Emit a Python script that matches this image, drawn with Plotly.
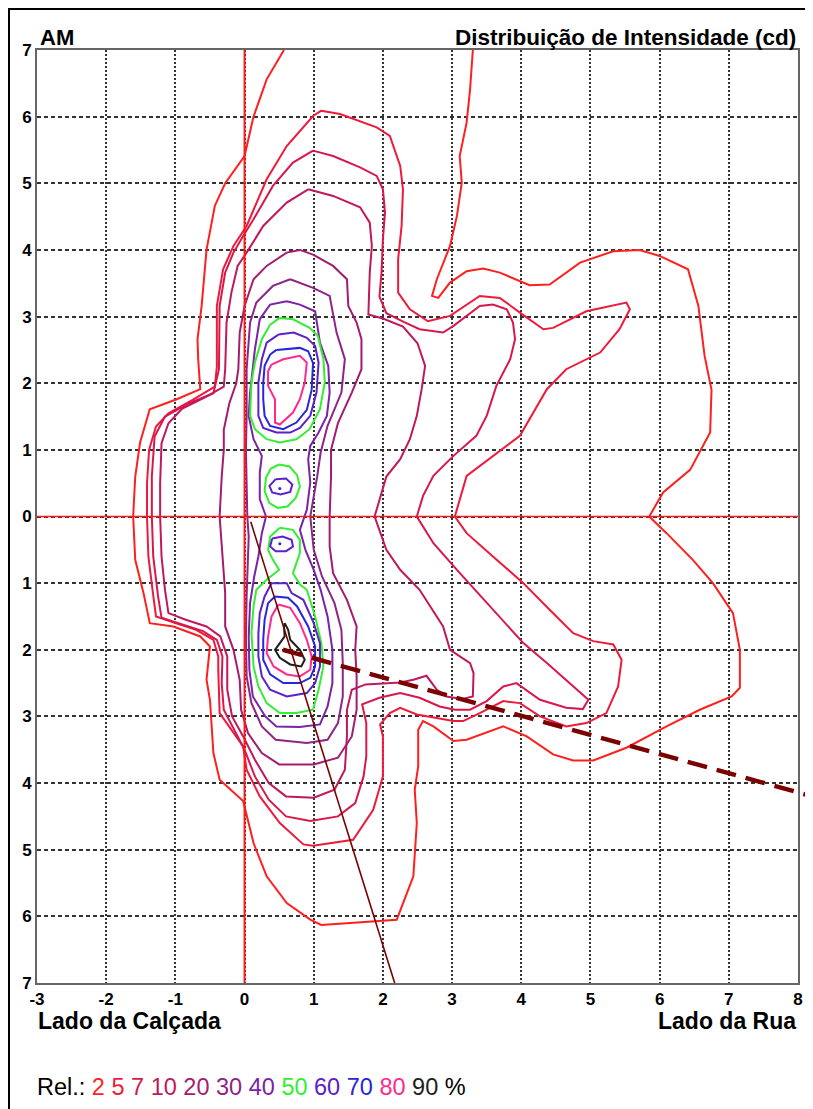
import plotly.graph_objects as go

# --- iso-intensity contours (x, y in metres) ---
c2_x = [0.57, 0.32, 0.13, 0.0, -0.28, -0.43, -0.55, -0.62, -0.68, -0.67, -0.64, -0.98, -1.37, -1.51, -1.58, -1.61,
        -1.58, -1.46, -1.37, -1.03, -0.64, -0.5, -0.55, -0.5, -0.45, -0.36, -0.02, 0.13, 0.32, 0.61, 0.95, 1.11,
        2.2, 2.44, 2.49, 2.46, 2.51, 2.51, 2.58, 2.73, 3.02, 3.21, 3.74, 4.08, 4.46, 4.75, 5.04, 5.52, 6.1, 6.58,
        7.04, 7.16, 7.16, 7.06, 6.77, 6.48, 6.1, 5.85, 6.05, 6.44, 6.73, 6.75, 6.65, 6.56, 6.41, 6.0, 5.71, 5.33,
        4.85, 4.41, 4.12, 3.69, 3.45, 3.21, 2.97, 2.8, 2.71, 2.78, 2.97, 3.07, 3.14, 3.11, 3.21, 3.26, 3.3]
c2_y = [7.0, 6.56, 6.0, 5.41, 5.0, 4.66, 4.0, 3.16, 2.66, 2.36, 1.91, 1.76, 1.61, 1.11, 0.6, 0.0,
        -0.65, -1.15, -1.6, -1.65, -1.8, -1.95, -2.45, -2.75, -3.55, -3.95, -4.27, -4.9, -5.4, -5.8, -6.05, -6.13,
        -6.05, -5.4, -4.6, -4.1, -3.75, -3.2, -3.07, -3.15, -3.37, -3.35, -3.15, -3.3, -3.57, -3.66, -3.66, -3.47,
        -3.15, -2.9, -2.7, -2.57, -2.0, -1.45, -1.0, -0.65, -0.25, 0.0, 0.36, 0.7, 1.26, 1.9, 2.41, 3.16, 3.71,
        3.91, 4.0, 3.98, 3.81, 3.48, 3.47, 3.66, 3.72, 3.68, 3.51, 3.28, 3.31, 3.56, 4.06, 4.51, 5.01, 5.41, 5.91,
        6.41, 7.0]

c5_x = [1.11, 1.38, 1.91, 2.1, 2.25, 2.29, 2.27, 2.22, 2.22, 2.39, 2.65, 2.97, 3.4, 3.69, 3.98, 4.32, 4.46, 4.94,
        5.52, 5.57, 5.42, 5.14, 4.65, 4.37, 3.98, 3.21, 3.04, 3.21, 3.59, 4.03, 4.41, 4.75, 5.04, 5.33, 5.45, 5.4,
        5.23, 4.94, 4.65, 4.27, 3.98, 3.74, 3.4, 3.16, 3.02, 2.73, 2.49, 2.25, 2.1, 1.96, 2.0, 2.0, 1.86, 1.57,
        0.99, 0.85, 0.51, 0.22, 0.03, -0.02, -0.16, -0.36, -0.38, -0.38, -0.45, -0.7, -1.0, -1.28, -1.33, -1.39,
        -1.41, -1.41, -1.38, -1.28, -1.1, -0.75, -0.43, -0.4, -0.4, -0.4, -0.31, -0.16, 0.03, 0.32, 0.61, 0.99, 1.11]
c5_y = [6.09, 6.04, 5.84, 5.71, 5.26, 4.91, 4.36, 3.86, 3.36, 3.11, 2.93, 3.01, 3.31, 3.28, 3.06, 2.81, 2.83, 3.08,
        3.21, 3.11, 2.81, 2.46, 2.21, 1.91, 1.21, 0.61, 0.0, -0.25, -0.6, -1.0, -1.4, -1.75, -1.87, -1.92, -2.15,
        -2.55, -2.95, -3.1, -3.15, -3.0, -2.8, -2.77, -2.95, -3.07, -3.07, -3.02, -2.97, -2.87, -2.95, -3.12, -3.3,
        -3.9, -4.4, -4.85, -4.94, -4.92, -4.6, -4.2, -3.8, -3.45, -3.25, -2.95, -2.3, -2.1, -1.85, -1.7, -1.6, -1.5,
        -1.1, -0.6, 0.0, 0.5, 1.0, 1.35, 1.55, 1.75, 1.95, 2.25, 2.66, 3.16, 3.71, 4.06, 4.36, 5.06, 5.56, 6.01, 6.09]

c7_x = [0.99, 1.28, 1.67, 1.91, 2.0, 2.03, 2.0, 1.98, 1.95, 2.05, 2.3, 2.53, 2.87, 3.02, 3.4, 3.59, 3.79, 3.88,
        3.91, 3.84, 3.64, 3.5, 3.35, 3.02, 2.73, 2.58, 2.49, 2.73, 3.07, 3.55, 4.03, 4.37, 4.75, 4.97, 4.89, 4.65,
        4.27, 3.93, 3.74, 3.5, 3.26, 3.04, 2.82, 2.53, 2.25, 1.95, 1.7, 1.76, 1.76, 1.72, 1.6, 1.35, 0.95, 0.6, 0.35,
        0.15, 0.0, -0.15, -0.3, -0.33, -0.32, -0.4, -0.6, -0.9, -1.2, -1.25, -1.32, -1.34, -1.34, -1.3, -1.15, -0.8,
        -0.45, -0.37, -0.36, -0.28, -0.16, -0.02, 0.13, 0.41, 0.7, 0.99]
c7_y = [5.49, 5.41, 5.24, 5.11, 4.91, 4.56, 4.16, 3.66, 3.3, 3.05, 2.92, 2.81, 2.76, 2.86, 3.16, 3.18, 3.11, 2.91,
        2.66, 2.36, 1.96, 1.51, 1.21, 0.91, 0.61, 0.31, 0.0, -0.4, -0.8, -1.35, -1.9, -2.2, -2.55, -2.75, -2.89,
        -2.87, -2.75, -2.5, -2.55, -2.77, -2.9, -2.9, -2.85, -2.72, -2.65, -2.72, -2.82, -3.1, -3.6, -3.9, -4.3,
        -4.5, -4.57, -4.5, -4.25, -3.9, -3.5, -3.2, -2.9, -2.5, -2.1, -1.85, -1.72, -1.62, -1.52, -1.2, -0.6, 0.0,
        0.6, 1.2, 1.5, 1.7, 1.85, 2.21, 3.16, 3.66, 3.96, 4.21, 4.46, 4.96, 5.31, 5.49]

c10_x = [0.92, 1.28, 1.67, 1.81, 1.84, 1.81, 1.79, 2.0, 2.29, 2.5, 2.61, 2.56, 2.49, 2.39, 2.25, 2.05, 1.88, 2.05,
         2.25, 2.53, 2.87, 2.97, 3.26, 3.31, 3.3, 3.14, 2.92, 2.78, 2.63, 2.44, 2.25, 2.0, 1.75, 1.55, 1.48, 1.48,
         1.45, 1.3, 1.0, 0.6, 0.35, 0.15, -0.02, -0.18, -0.25, -0.25, -0.35, -0.55, -0.85, -1.1, -1.15, -1.2, -1.22,
         -1.22, -1.2, -1.1, -0.9, -0.55, -0.3, -0.28, -0.26, -0.19, -0.1, 0.03, 0.27, 0.61, 0.92]
c10_y = [4.91, 4.81, 4.64, 4.41, 4.06, 3.66, 3.03, 2.97, 2.85, 2.6, 2.26, 1.91, 1.51, 1.16, 0.86, 0.6, 0.0, -0.5,
         -0.8, -1.1, -1.65, -2.0, -2.2, -2.35, -2.7, -2.74, -2.7, -2.6, -2.39, -2.45, -2.49, -2.5, -2.52, -2.6,
         -2.9, -3.3, -3.8, -4.1, -4.22, -4.2, -4.0, -3.65, -3.3, -3.0, -2.6, -2.1, -1.8, -1.65, -1.55, -1.45, -1.1,
         -0.6, 0.0, 0.5, 1.1, 1.4, 1.62, 1.8, 1.95, 2.21, 2.91, 3.36, 3.76, 3.96, 4.36, 4.71, 4.91]

c20_x = [0.8, 0.99, 1.28, 1.48, 1.5, 1.62, 1.69, 1.69, 1.55, 1.35, 1.25, 1.25, 1.23, 1.23, 1.28, 1.48, 1.62, 1.6,
         1.62, 1.62, 1.55, 1.35, 1.0, 0.5, 0.25, 0.05, -0.05, -0.07, -0.16, -0.28, -0.28, -0.33, -0.36, -0.33, -0.3,
         -0.3, -0.22, -0.12, -0.09, -0.07, 0.0, 0.13, 0.32, 0.61, 0.8]
c20_y = [4.0, 3.93, 3.76, 3.56, 3.16, 2.91, 2.66, 2.21, 1.86, 1.4, 1.0, 0.6, 0.0, -0.45, -0.85, -1.25, -1.65, -2.0,
         -2.4, -2.9, -3.3, -3.62, -3.72, -3.72, -3.55, -3.25, -2.9, -2.45, -2.0, -1.65, -1.15, -0.5, 0.0, 0.6, 1.0,
         1.3, 1.7, 2.0, 2.21, 2.76, 3.16, 3.56, 3.76, 3.96, 4.0]

c30_x = [0.66, 0.99, 1.23, 1.28, 1.33, 1.45, 1.4, 1.2, 1.1, 1.05, 0.95, 1.0, 1.12, 1.3, 1.4, 1.42, 1.42, 1.35, 1.2,
         0.9, 0.45, 0.25, 0.1, 0.03, 0.02, 0.03, 0.05, 0.06, 0.04, 0.03, 0.02, 0.03, 0.03, 0.03, 0.08, 0.17, 0.41, 0.66]
c30_y = [3.56, 3.43, 3.31, 3.06, 2.76, 2.36, 1.86, 1.36, 0.96, 0.6, 0.0, -0.5, -0.9, -1.3, -1.7, -2.2, -2.7, -3.1,
         -3.35, -3.4, -3.35, -3.15, -2.8, -2.4, -1.8, -1.2, -0.7, -0.3, 0.0, 0.5, 1.0, 1.5, 2.0, 2.21, 2.91, 3.21,
         3.46, 3.56]

c40_x = [0.61, 0.8, 1.02, 1.09, 1.21, 1.23, 1.19, 1.07, 0.95, 0.92, 0.95, 0.9, 0.8, 0.88, 1.0, 1.1, 1.2, 1.27,
         1.27, 1.2, 1.09, 0.8, 0.46, 0.3, 0.12, 0.07, 0.06, 0.08, 0.14, 0.2, 0.25, 0.31, 0.22, 0.22, 0.25, 0.13, 0.06,
         0.08, 0.15, 0.22, 0.37, 0.61]
c40_y = [3.23, 3.18, 3.08, 2.61, 2.26, 1.86, 1.51, 1.26, 1.06, 0.86, 0.51, 0.1, -0.2, -0.5, -0.8, -1.1, -1.5, -2.0,
         -2.5, -2.85, -3.12, -3.16, -3.15, -3.0, -2.7, -2.3, -1.8, -1.3, -0.9, -0.6, -0.25, 0.0, 0.26, 0.66, 0.91,
         1.16, 1.51, 1.86, 2.51, 2.96, 3.18, 3.23]

c50a_x = [0.51, 0.7, 0.94, 1.06, 1.14, 1.16, 1.09, 0.94, 0.75, 0.51, 0.32, 0.15, 0.08, 0.1, 0.15, 0.25, 0.37, 0.51]
c50a_y = [2.98, 2.96, 2.83, 2.71, 2.36, 2.01, 1.61, 1.31, 1.16, 1.11, 1.16, 1.31, 1.51, 2.01, 2.31, 2.66, 2.88, 2.98]
c50b_x = [0.5, 0.65, 0.76, 0.8, 0.74, 0.62, 0.48, 0.36, 0.29, 0.31, 0.38, 0.5]
c50b_y = [0.78, 0.75, 0.62, 0.45, 0.28, 0.15, 0.13, 0.2, 0.38, 0.58, 0.72, 0.78]
c50c_x = [0.51, 0.7, 0.8, 0.8, 0.75, 0.7, 0.8, 0.9, 1.02, 1.11, 1.14, 1.07, 0.99, 0.75, 0.51, 0.32, 0.2, 0.13,
          0.1, 0.13, 0.17, 0.32, 0.5, 0.41, 0.34, 0.37, 0.51]
c50c_y = [-0.17, -0.2, -0.35, -0.55, -0.7, -0.85, -1.02, -1.1, -1.5, -1.9, -2.25, -2.6, -2.9, -2.95, -2.95, -2.8,
          -2.55, -2.25, -1.75, -1.35, -1.1, -0.95, -0.8, -0.65, -0.5, -0.3, -0.17]

c60a_x = [0.49, 0.71, 0.9, 1.02, 1.07, 1.04, 0.95, 0.8, 0.66, 0.46, 0.27, 0.2, 0.2, 0.25, 0.32, 0.49]
c60a_y = [2.73, 2.76, 2.68, 2.56, 2.31, 1.86, 1.51, 1.33, 1.26, 1.26, 1.33, 1.51, 2.01, 2.36, 2.61, 2.73]
c60b_x = [0.45, 0.6, 0.69, 0.66, 0.52, 0.4, 0.36, 0.45]
c60b_y = [0.56, 0.57, 0.48, 0.37, 0.33, 0.36, 0.46, 0.56]
c60c_x = [0.4, 0.55, 0.68, 0.7, 0.6, 0.45, 0.37, 0.4]
c60c_y = [-0.33, -0.3, -0.35, -0.45, -0.52, -0.52, -0.45, -0.33]
c60d_x = [0.39, 0.61, 0.68, 0.85, 1.0, 1.09, 1.09, 1.02, 0.9, 0.61, 0.37, 0.25, 0.2, 0.2, 0.22, 0.29, 0.39]
c60d_y = [-1.0, -1.0, -1.15, -1.25, -1.6, -1.9, -2.25, -2.5, -2.65, -2.7, -2.6, -2.4, -2.1, -1.75, -1.45, -1.2, -1.0]

c70a_x = [0.46, 0.8, 0.92, 0.99, 0.97, 0.9, 0.75, 0.56, 0.37, 0.29, 0.27, 0.27, 0.29, 0.37, 0.46]
c70a_y = [2.5, 2.53, 2.48, 2.3, 1.9, 1.6, 1.41, 1.31, 1.36, 1.51, 1.76, 2.0, 2.26, 2.43, 2.5]
c70b_x = [0.44, 0.63, 0.76, 0.92, 1.02, 1.02, 0.95, 0.8, 0.56, 0.37, 0.27, 0.27, 0.29, 0.34, 0.44]
c70b_y = [-1.2, -1.22, -1.35, -1.65, -1.95, -2.25, -2.42, -2.5, -2.5, -2.37, -2.15, -1.85, -1.55, -1.3, -1.2]
# tiny 70 % spots inside the two small 60 % islands
c70_spot_x = [0.51, 0.51]
c70_spot_y = [0.42, -0.41]

c80a_x = [0.39, 0.56, 0.8, 0.9, 0.87, 0.8, 0.7, 0.51, 0.44, 0.44, 0.34, 0.34, 0.39]
c80a_y = [2.28, 2.36, 2.41, 2.31, 2.01, 1.76, 1.56, 1.38, 1.41, 1.76, 1.96, 2.18, 2.28]
c80b_x = [0.49, 0.66, 0.8, 0.9, 0.97, 0.95, 0.8, 0.61, 0.42, 0.32, 0.34, 0.39, 0.49]
c80b_y = [-1.32, -1.37, -1.6, -1.85, -2.1, -2.3, -2.4, -2.37, -2.25, -2.05, -1.8, -1.5, -1.32]

c90_x = [0.58, 0.63, 0.66, 0.8, 0.87, 0.82, 0.66, 0.51, 0.44, 0.51, 0.58, 0.57, 0.58]
c90_y = [-1.6, -1.7, -1.85, -2.0, -2.15, -2.25, -2.22, -2.12, -2.0, -1.9, -1.8, -1.65, -1.6]

levels = ["2", "5", "7", "10", "20", "30", "40", "50", "60", "70", "80", "90"]
level_colors = ["#ff1f1f", "#ee1a3c", "#d8184c", "#c0185c", "#a41c70", "#8e2488", "#7a22a8", "#33ee33",
                "#5a22c8", "#2626dc", "#ff2a8c", "#1e1e1e"]
contours = [
    ("2", c2_x, c2_y), ("5", c5_x, c5_y), ("7", c7_x, c7_y), ("10", c10_x, c10_y),
    ("20", c20_x, c20_y), ("30", c30_x, c30_y), ("40", c40_x, c40_y),
    ("50", c50a_x, c50a_y), ("50", c50b_x, c50b_y), ("50", c50c_x, c50c_y),
    ("60", c60a_x, c60a_y), ("60", c60b_x, c60b_y), ("60", c60c_x, c60c_y), ("60", c60d_x, c60d_y),
    ("70", c70a_x, c70a_y), ("70", c70b_x, c70b_y),
    ("80", c80a_x, c80a_y), ("80", c80b_x, c80b_y),
    ("90", c90_x, c90_y),
]

# aiming lines
tilt_x = [0.09, 2.17]
tilt_y = [-0.08, -7.0]
dash_x = [0.555, 8.21]
dash_y = [-2.0, -4.2]

x_ticks = list(range(-3, 9))
y_ticks = list(range(-7, 8))

X_RANGE = [-3, 8]
Y_RANGE = [-7, 7]
# the page body has an 8px margin, so the figure sits 8px right of / below the window origin
OFF = 8
W, H = 813 - OFF, 1109 - OFF
M = dict(l=37 - OFF, r=15, t=50 - OFF, b=126)


def px_x(px):
    """window pixel -> paper x"""
    return (px - OFF - M["l"]) / (W - M["l"] - M["r"])


def px_y(py):
    """window pixel -> paper y"""
    return (H - M["b"] - (py - OFF)) / (H - M["t"] - M["b"])


def dx(x):
    return (x - X_RANGE[0]) / (X_RANGE[1] - X_RANGE[0])


def dy(y):
    return (y - Y_RANGE[0]) / (Y_RANGE[1] - Y_RANGE[0])


fig = go.Figure()

for lev, xs, ys in contours:
    col = level_colors[levels.index(lev)]
    fig.add_trace(go.Scatter(x=xs, y=ys, mode="lines", line=dict(color=col, width=2),
                             showlegend=False, hoverinfo="skip"))

fig.add_trace(go.Scatter(x=c70_spot_x, y=c70_spot_y, mode="markers",
                         marker=dict(color=level_colors[levels.index("70")], size=3),
                         showlegend=False, hoverinfo="skip"))

fig.add_trace(go.Scatter(x=tilt_x, y=tilt_y, mode="lines", line=dict(color="#7a0000", width=1.6),
                         showlegend=False, hoverinfo="skip"))

shapes = [
    dict(type="line", xref="x", yref="y", x0=0, x1=0, y0=-7, y1=7, line=dict(color="#ff1a1a", width=2)),
    dict(type="line", xref="x", yref="y", x0=-3, x1=8, y0=0, y1=0, line=dict(color="#ff1a1a", width=1.5)),
    dict(type="line", xref="paper", yref="paper", x0=dx(dash_x[0]), y0=dy(dash_y[0]),
         x1=dx(dash_x[1]), y1=dy(dash_y[1]), line=dict(color="#7a0000", width=4.5, dash="20px,10px")),
    dict(type="rect", xref="paper", yref="paper", x0=px_x(9), y0=px_y(1140), x1=px_x(840), y1=px_y(9),
         line=dict(color="black", width=2)),
]

font = "Liberation Sans, Arial, sans-serif"
legend_txt = "Rel.: " + " ".join(
    '<span style="color:%s">%s</span>' % (c, l) for l, c in zip(levels, level_colors)) + " %"

annotations = [
    dict(text="<b>AM</b>", x=px_x(38), y=px_y(38), xanchor="left", yanchor="middle", font=dict(size=22)),
    dict(text="<b>Distribuição de Intensidade (cd)</b>", x=px_x(798), y=px_y(38),
         xanchor="right", yanchor="middle", font=dict(size=22.5)),
    dict(text="<b>Lado da Calçada</b>", x=px_x(36), y=px_y(1021), xanchor="left", yanchor="middle",
         font=dict(size=23)),
    dict(text="<b>Lado da Rua</b>", x=px_x(798), y=px_y(1021), xanchor="right", yanchor="middle",
         font=dict(size=23)),
    dict(text=legend_txt, x=px_x(35), y=px_y(1087), xanchor="left", yanchor="middle",
         font=dict(size=23.5)),
]
for a in annotations:
    a.update(xref="paper", yref="paper", showarrow=False)
    a["font"].update(family=font, color="black")

fig.update_layout(
    width=W, height=H, margin=M,
    paper_bgcolor="white", plot_bgcolor="white",
    shapes=shapes, annotations=annotations,
    font=dict(family=font, color="black"),
    showlegend=False,
)
fig.update_xaxes(range=X_RANGE, tickvals=x_ticks, ticktext=["<b>%d</b>" % v for v in x_ticks],
                 tickfont=dict(size=17), showgrid=True, gridcolor="#333333", gridwidth=1.5, griddash="2px,2px",
                 zeroline=False, showline=True, linecolor="#666666", linewidth=2, mirror=True, ticks="",
                 automargin=False)
fig.update_yaxes(range=Y_RANGE, tickvals=y_ticks, ticktext=["<b>%d</b>" % abs(v) for v in y_ticks],
                 tickfont=dict(size=17), showgrid=True, gridcolor="#333333", gridwidth=1.5, griddash="4px,3px",
                 zeroline=False, showline=True, linecolor="#666666", linewidth=2, mirror=True, ticks="",
                 automargin=False)

fig.write_html("out.html")
